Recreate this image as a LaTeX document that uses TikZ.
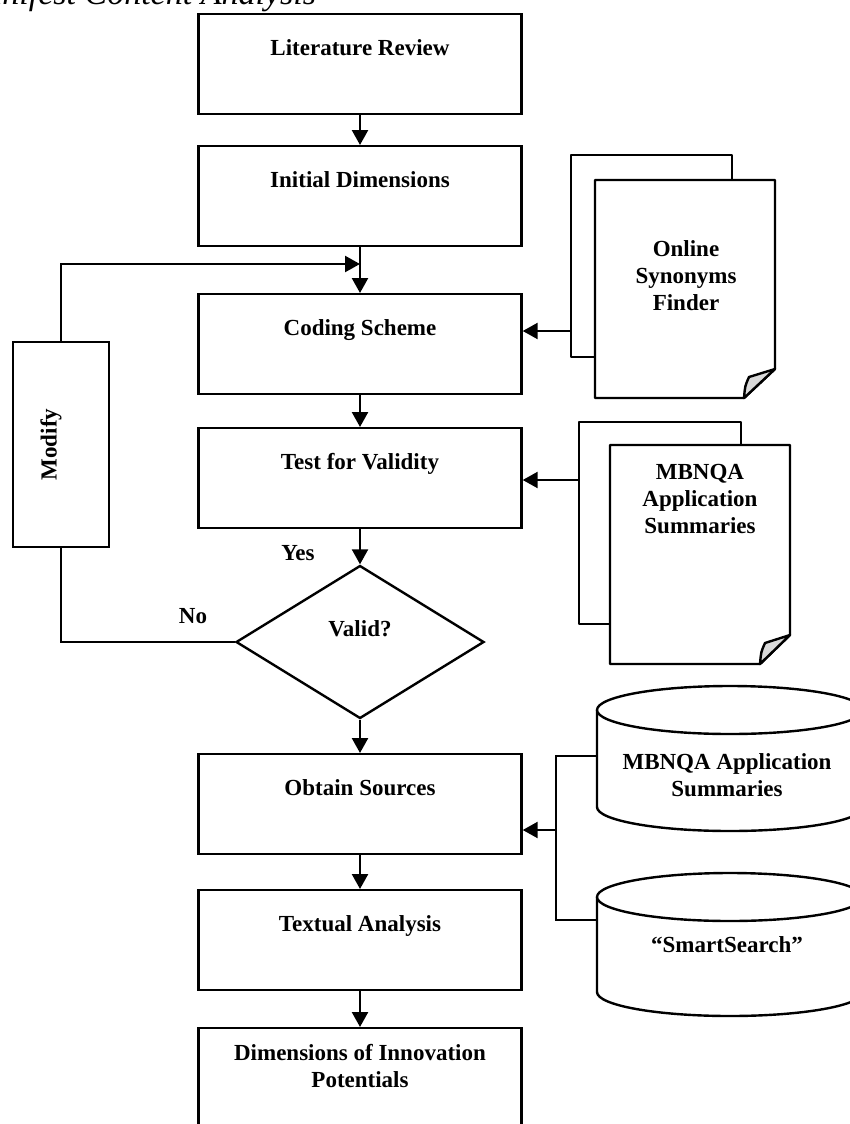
\documentclass[tikz,border=0pt]{standalone}
\usepackage{fontspec}
\setmainfont{Liberation Serif}
\usetikzlibrary{shapes, shapes.geometric, arrows.meta, positioning, calc}
\tikzstyle{block} = [rectangle, draw, line width=1.2pt, fill=white, inner sep=0pt, minimum width=161.5pt, text height=20.5pt, text depth=29.5pt]
\tikzstyle{decision} = [diamond, draw, line width=1.2pt, inner sep=0pt, minimum width=124pt, minimum height=76.5pt, text height=7pt, text depth=13pt]
\tikzstyle{link} = [draw, line width=1.2pt]
\tikzstyle{flow} = [link, -{Triangle[length=7.5pt, width=8pt]}]
\tikzstyle{page} = [draw, line width=1.2pt, fill=white, line join=round]

\begin{document}
\begin{tikzpicture}[x=0.5pt, y=-0.5pt, every node/.style={font=\bfseries\fontsize{11.5}{13.5}\selectfont}]
        \useasboundingbox (0,0) rectangle (850,1124);

        % Cut-off caption
        \node[anchor=base east, font=\itshape\fontsize{17}{20}\selectfont] (caption) at (323,4) {Manifest Content Analysis};

        % Main flow
        \node[block, anchor=north] (lit) at (360,13) {Literature Review};
        \node[block, anchor=north] (init) at (360,145) {Initial Dimensions};
        \node[block, anchor=north] (coding) at (360,293) {Coding Scheme};
        \node[block, anchor=north] (test) at (360,427) {Test for Validity};
        \node[decision] (valid) at (360,642) {Valid?};
        \node[block, anchor=north] (obtain) at (360,753) {Obtain Sources};
        \node[block, anchor=north] (textual) at (360,889) {Textual Analysis};
        \node[block, anchor=north, align=center, text height=29.5pt, text depth=30pt] (dims) at (360,1027) {Dimensions of Innovation\\Potentials};

        \draw[flow] (lit.south) -- (init.north);
        \draw[flow] (init.south) -- (coding.north);
        \draw[flow] (coding.south) -- (test.north);
        \draw[flow] (test.south) -- (valid.north);
        \draw[flow] (valid.south) -- (obtain.north);
        \draw[flow] (obtain.south) -- (textual.north);
        \draw[flow] (textual.south) -- (dims.north);
        \node (yes) at (298,553) {Yes};

        % Feedback loop
        \node[draw, line width=1.2pt, inner sep=0pt, minimum width=48pt, minimum height=102.5pt] (modify) at (61,444.5) {\rotatebox{90}{\raisebox{0pt}[7pt][11.5pt]{Modify}}};
        \coordinate (join) at (360,264);
        \draw[link] (valid.west) -| (modify.south);
        \draw[flow] (modify.north) |- (join);
        \node (no) at (193,616) {No};

        % Document stacks
        \draw[page] (571,155) rectangle (732,357);
        \draw[page] (595,180) -- (775,180) -- (775,369) -- (744,398) -- (595,398) -- cycle;
        \filldraw[page, fill=gray!30] (775,369) -- (749,377) .. controls (745,386) .. (744,398) -- cycle;
        \node[align=center] (online) at (686,276) {Online\\Synonyms\\Finder};
        \coordinate (onlineIn) at (571,331);
        \draw[flow] (onlineIn) -- (coding.east |- onlineIn);

        \draw[page] (579,422) rectangle (741,624);
        \draw[page] (610,445) -- (790,445) -- (790,635) -- (760,664) -- (610,664) -- cycle;
        \filldraw[page, fill=gray!30] (790,635) -- (765,643) .. controls (761,652) .. (760,664) -- cycle;
        \node[align=center] (mbdoc) at (700,499) {MBNQA\\Application\\Summaries};
        \coordinate (mbdocIn) at (579,480);
        \draw[flow] (mbdocIn) -- (test.east |- mbdocIn);

        % Databases
        \draw[page] (597,710) -- (597,807) arc[start angle=180, end angle=360, x radius=66.5pt, y radius=12pt] -- (863,710);
        \draw[page] (730,710) ellipse [x radius=66.5pt, y radius=12pt];
        \node[align=center] (mbdb) at (727,775) {MBNQA Application\\Summaries};

        \draw[page] (597,897) -- (597,992) arc[start angle=180, end angle=360, x radius=66.5pt, y radius=12pt] -- (863,897);
        \draw[page] (730,897) ellipse [x radius=66.5pt, y radius=12pt];
        \node (smart) at (727,945) {“SmartSearch”};

        \coordinate (mbdbIn) at (597,756);
        \coordinate (smartIn) at (597,920);
        \coordinate (bus) at (556,830);
        \draw[link] (mbdbIn) -| (bus) |- (smartIn);
        \draw[flow] (bus) -- (obtain.east |- bus);

    \end{tikzpicture}
\end{document}
